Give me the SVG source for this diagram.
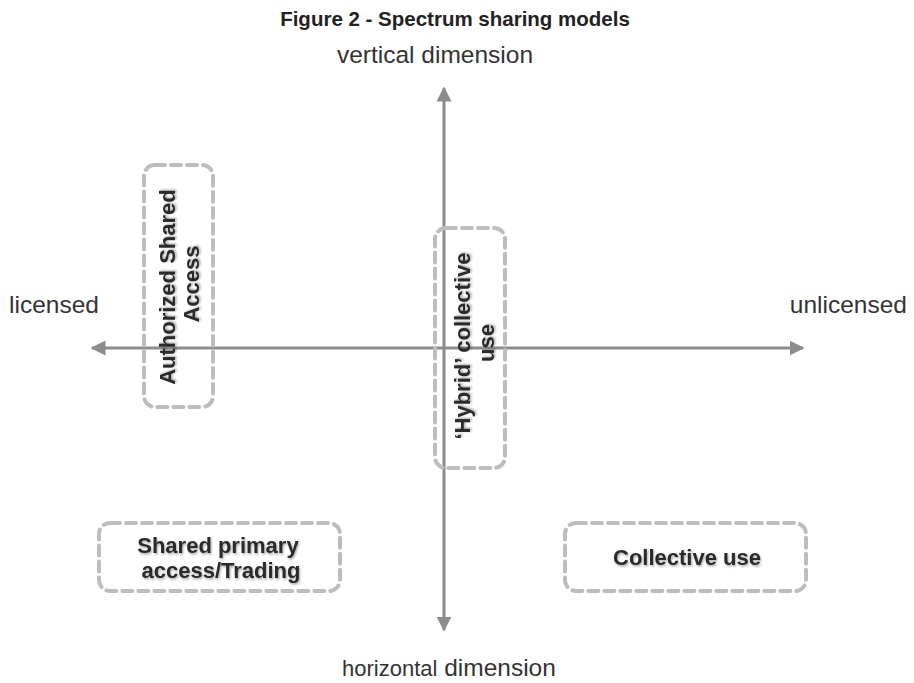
<svg xmlns="http://www.w3.org/2000/svg" width="914" height="683" viewBox="0 0 914 683">
  <style>
    .title { font-family: "Liberation Sans", Arial, sans-serif; font-weight: bold; font-size: 20.5px; fill: #222; }
    .axis-label { font-family: "Liberation Sans", Arial, sans-serif; font-size: 24.5px; fill: #333; }
    .node-box { fill: none; stroke: #bdbdbd; stroke-width: 4; stroke-dasharray: 10 6; stroke-linecap: round; }
    .node-text { font-family: "Liberation Sans", Arial, sans-serif; font-weight: bold; font-size: 22px; fill: #2a2a2a; text-anchor: middle; filter: url(#soft-shadow); }
    .axis { stroke: #8c8c8c; stroke-width: 3; fill: none; }
  </style>
  <defs>
    <filter id="soft-shadow" x="-10%" y="-30%" width="120%" height="160%">
      <feDropShadow dx="1" dy="1.5" stdDeviation="1.2" flood-color="#000" flood-opacity="0.35"/>
    </filter>
    <marker id="arrow" viewBox="0 0 10 10" refX="9" refY="5" markerWidth="5" markerHeight="5" orient="auto" markerUnits="strokeWidth">
      <path d="M0,0 L10,5 L0,10 Z" fill="#8c8c8c"/>
    </marker>
  </defs>

  <rect width="914" height="683" fill="#ffffff"/>

  <text class="title" x="455" y="26" text-anchor="middle">Figure 2 - Spectrum sharing models</text>
  <text class="axis-label" x="435" y="63" text-anchor="middle" font-size="26.5">vertical dimension</text>
  <text class="axis-label" x="9" y="313">licensed</text>
  <text class="axis-label" x="907" y="313" text-anchor="end">unlicensed</text>
  <text class="axis-label" x="342" y="676"><tspan font-size="22">horizontal</tspan> dimension</text>

  <g id="connectors">
    <line class="axis" x1="444" y1="348" x2="92" y2="348" marker-end="url(#arrow)"/>
    <line class="axis" x1="444" y1="348" x2="803" y2="348" marker-end="url(#arrow)"/>
    <line class="axis" x1="444" y1="348" x2="444" y2="88" marker-end="url(#arrow)"/>
    <line class="axis" x1="444" y1="348" x2="444" y2="630" marker-end="url(#arrow)"/>
  </g>

  <g id="authorized-shared-access">
    <rect class="node-box" x="144" y="165" width="69" height="242" rx="11"/>
    <text class="node-text" transform="translate(175,284) rotate(-90)">
      <tspan x="0" y="0">Authorized Shared</tspan>
      <tspan x="0" y="24">Access</tspan>
    </text>
  </g>

  <g id="hybrid-collective-use">
    <rect class="node-box" x="435" y="228" width="70" height="240" rx="11"/>
    <text class="node-text" transform="translate(470,343) rotate(-90)">
      <tspan x="0" y="0">‘Hybrid’ collective</tspan>
      <tspan x="0" y="24">use</tspan>
    </text>
  </g>

  <g id="shared-primary-access">
    <rect class="node-box" x="99" y="523" width="241" height="68" rx="11"/>
    <text class="node-text">
      <tspan x="221" y="553">Shared primary</tspan>
      <tspan x="221" y="578">access/Trading</tspan>
    </text>
  </g>

  <g id="collective-use">
    <rect class="node-box" x="565" y="523" width="241" height="68" rx="11"/>
    <text class="node-text" x="687" y="565">Collective use</text>
  </g>
</svg>
